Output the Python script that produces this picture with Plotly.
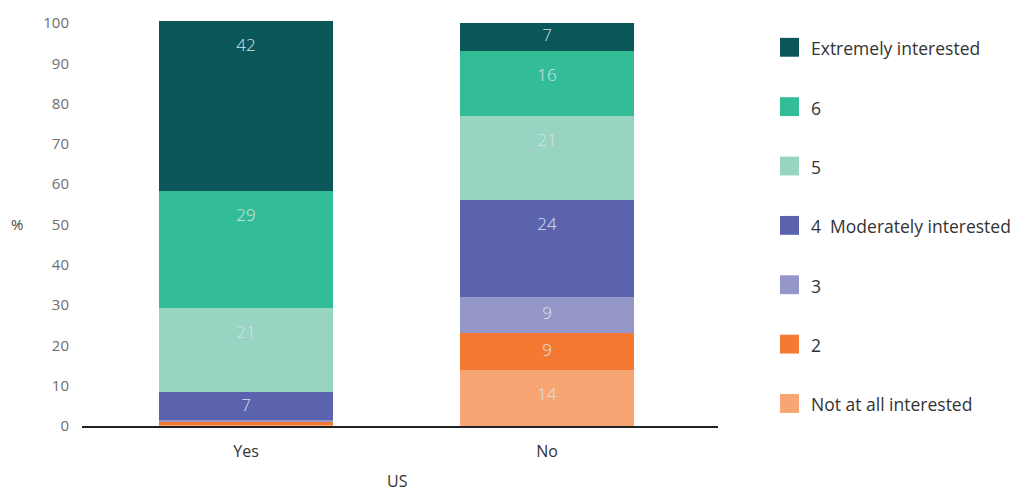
import plotly.graph_objects as go

# Share of respondents by interest level (%), split by answer
groups = ["Yes", "No"]
levels = ["Not at all interested", "2", "3", "4  Moderately interested", "5", "6", "Extremely interested"]
yes_vals = [0.3, 0.8, 0.3, 7, 21, 29, 42]
no_vals = [14, 9, 9, 24, 21, 16, 7]
yes_text = ["", "", "", "7", "21", "29", "42"]
no_text = ["14", "9", "9", "24", "21", "16", "7"]
colors = ["#f7a673", "#f47a34", "#9597c9", "#5c63ae", "#97d4c2", "#33bd97", "#0b5659"]

FONT = "Open Sans"
W, H = 1026, 493
ML, MR, MT, MB = 82, 308, 16, 67
Y_MAX = 101

fig = go.Figure()
for i, lvl in enumerate(levels):
    fig.add_trace(go.Bar(
        x=groups,
        y=[yes_vals[i], no_vals[i]],
        name=lvl,
        marker=dict(color=colors[i], line=dict(width=0)),
        showlegend=False,
        hoverinfo="skip",
    ))

# Segment labels sit near the top of each segment (centred for short ones)
ph = H - MT - MB
units_per_px = Y_MAX / ph
top_pad = 26 * units_per_px
lab_x, lab_y, lab_t = [], [], []
for g, vals, txts in ((groups[0], yes_vals, yes_text), (groups[1], no_vals, no_text)):
    cum = 0
    for v, t in zip(vals, txts):
        cum += v
        if t:
            lab_x.append(g)
            lab_y.append(cum - min(top_pad, v / 2))
            lab_t.append(t)
fig.add_trace(go.Scatter(
    x=lab_x, y=lab_y, text=lab_t, mode="text",
    textposition="middle center",
    textfont=dict(family=FONT, size=17, color="#d9e2e8", weight=300),
    showlegend=False, hoverinfo="skip",
))

# Legend drawn as squares + labels to the right of the plot area
pw = W - ML - MR
def px_x(p):
    return (p - ML) / pw
def px_y(p):
    return (H - MB - p) / ph

shapes = []
annotations = []
top_item = 44.5
step = 59.8
for k, idx in enumerate(reversed(range(len(levels)))):
    cy = top_item + k * step
    shapes.append(dict(
        type="rect", xref="paper", yref="paper",
        x0=px_x(780), x1=px_x(799), y0=px_y(cy + 9.5), y1=px_y(cy - 9.5),
        fillcolor=colors[idx], line=dict(width=0),
    ))
    annotations.append(dict(
        xref="paper", yref="paper", x=px_x(809), y=px_y(cy + 1),
        text=levels[idx], showarrow=False, xanchor="left", yanchor="middle",
        font=dict(family=FONT, size=17.5, color="#333333"),
    ))

annotations.append(dict(
    xref="paper", yref="paper", x=px_x(17), y=px_y(223),
    text="%", showarrow=False, xanchor="center", yanchor="middle",
    font=dict(family=FONT, size=15, color="#444444"),
))
annotations.append(dict(
    xref="paper", yref="paper", x=px_x(397), y=px_y(481),
    text="US", showarrow=False, xanchor="center", yanchor="middle",
    font=dict(family=FONT, size=16, color="#333333"),
))

fig.update_layout(
    barmode="stack",
    bargap=0.422,
    width=W, height=H,
    margin=dict(l=ML, r=MR, t=MT, b=MB),
    plot_bgcolor="white", paper_bgcolor="white",
    shapes=shapes,
    annotations=annotations,
    xaxis=dict(
        range=[-0.545, 1.568],
        showline=True, linecolor="#222222", linewidth=1.5,
        showgrid=False, zeroline=False, ticks="",
        tickfont=dict(family=FONT, size=16, color="#333333"),
        ticklabelstandoff=10,
    ),
    yaxis=dict(
        range=[0, Y_MAX],
        tickmode="array", tickvals=list(range(0, 101, 10)),
        showgrid=False, zeroline=False, showline=False, ticks="",
        tickfont=dict(family=FONT, size=15, color="#6e6e6e"),
        ticklabelstandoff=12,
    ),
)

fig.write_html("out.html")
